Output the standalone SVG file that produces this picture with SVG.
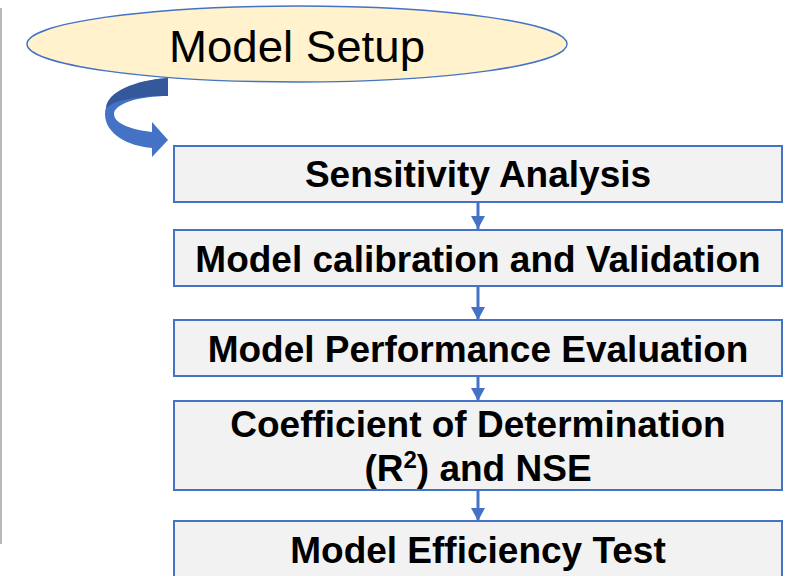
<svg xmlns="http://www.w3.org/2000/svg" width="790" height="576" viewBox="0 0 790 576">
<style>
.box{fill:#F2F2F2;stroke:#4472C4;stroke-width:2}
.lbl{font-family:"Liberation Sans",Arial,sans-serif;font-weight:bold;font-size:37px;fill:#000;text-anchor:middle}
.conn{stroke:#4472C4;stroke-width:3;fill:none}
</style>
<defs>
<marker id="ah" markerWidth="13" markerHeight="14" refX="13" refY="7" orient="auto" markerUnits="userSpaceOnUse" viewBox="0 0 13 14">
<path d="M0,0 L13,7 L0,14 Z" fill="#4472C4"/>
</marker>
</defs>
<rect x="0" y="0" width="790" height="576" fill="#FFFFFF"/>
<line x1="1" y1="8" x2="1" y2="544" stroke="#A0A0A0" stroke-width="1.5"/>
<g id="setup">
<ellipse cx="297" cy="44" rx="270" ry="38" fill="#FFF2CC" stroke="#4472C4" stroke-width="1.5"/>
<text x="169" y="62" font-family="Liberation Sans,Arial,sans-serif" font-size="44" textLength="256" lengthAdjust="spacingAndGlyphs" fill="#000">Model Setup</text>
</g>
<g id="curved-arrow">
<path d="M168,78 C135,80 105,95 105,114 C105,134 128,146 152,148 L152,157 L168,140 L152,122 L152,132 C133,130 114,124 114,114 C114,104 138,96 168,96 Z" fill="#4472C4"/>
<path d="M168,78 C135,80 107,92 106,108 C116,99 140,96 168,96 Z" fill="#35589A"/>
</g>
<g id="connectors">
<line class="conn" x1="478" y1="202" x2="478" y2="229" marker-end="url(#ah)"/>
<line class="conn" x1="478" y1="286" x2="478" y2="320" marker-end="url(#ah)"/>
<line class="conn" x1="478" y1="376" x2="478" y2="401" marker-end="url(#ah)"/>
<line class="conn" x1="478" y1="490" x2="478" y2="521" marker-end="url(#ah)"/>
</g>
<g id="n1">
<rect class="box" x="174" y="146" width="608" height="56"/>
<text class="lbl" x="478" y="187">Sensitivity Analysis</text>
</g>
<g id="n2">
<rect class="box" x="174" y="230" width="608" height="56"/>
<text class="lbl" x="478" y="272">Model calibration and Validation</text>
</g>
<g id="n3">
<rect class="box" x="174" y="320" width="608" height="56"/>
<text class="lbl" x="478" y="362">Model Performance Evaluation</text>
</g>
<g id="n4">
<rect class="box" x="174" y="401" width="608" height="89"/>
<text class="lbl" x="478" y="437">Coefficient of Determination</text>
<text class="lbl" x="478" y="481">(R<tspan font-size="24" dy="-13">2</tspan><tspan dy="13">) and NSE</tspan></text>
</g>
<g id="n5">
<rect class="box" x="174" y="521" width="608" height="70"/>
<text class="lbl" x="478" y="563">Model Efficiency Test</text>
</g>
</svg>
